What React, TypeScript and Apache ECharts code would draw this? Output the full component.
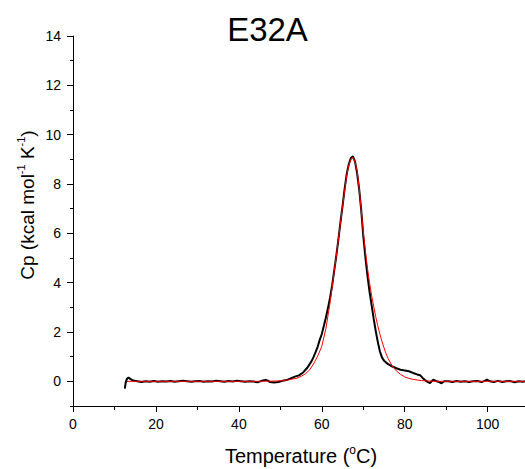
import React, { useEffect, useRef } from "react";
import * as echarts from "echarts";

// Experimental DSC trace (black)
const expT = [12.5, 12.7, 13.0, 13.4, 13.8, 14.5, 15.5, 16.5, 17.5, 18.5, 19.5, 20.5, 21.5, 22.5, 23.5, 24.5, 25.5, 26.5, 27.5, 28.5, 29.5, 30.5, 31.5, 32.5, 33.5, 34.5, 35.5, 36.5, 37.5, 38.5, 39.5, 40.5, 41.5, 42.5, 43.5, 44.5, 45.5, 46.5, 47.0, 47.5, 48.5, 49.5, 50.5, 51.5, 52.5, 53.5, 54.5, 55.5, 56.5, 57.5, 58.0, 58.5, 59.0, 59.5, 60.0, 60.5, 61.0, 61.5, 62.0, 62.5, 63.0, 63.5, 64.0, 64.5, 65.0, 65.5, 66.0, 66.5, 67.0, 67.5, 68.0, 68.5, 69.0, 69.5, 70.0, 70.5, 71.0, 71.5, 72.0, 72.5, 73.0, 73.5, 74.0, 74.5, 75.0, 75.5, 76.0, 77.0, 78.0, 79.0, 80.0, 81.0, 82.0, 83.0, 83.7, 84.3, 84.9, 85.5, 86.1, 86.9, 87.7, 88.3, 88.9, 89.5, 90.5, 91.5, 92.5, 93.5, 94.5, 95.5, 96.5, 97.5, 98.5, 99.3, 99.8, 100.5, 101.5, 102.5, 103.5, 104.5, 105.5, 106.5, 107.5, 108.5, 109.0];
const expCp = [-0.3, -0.05, 0.1, 0.15, 0.1, 0.03, 0.0, -0.03, 0.0, -0.02, 0.01, -0.02, 0.0, -0.01, 0.01, -0.02, 0.0, 0.02, 0.0, -0.02, 0.0, 0.01, -0.02, 0.0, -0.01, 0.02, 0.0, -0.02, 0.01, -0.01, 0.02, 0.0, -0.02, 0.0, -0.01, -0.04, 0.02, 0.06, 0.03, -0.03, -0.05, -0.03, 0.02, 0.05, 0.12, 0.19, 0.24, 0.36, 0.55, 0.81, 0.98, 1.18, 1.4, 1.68, 1.92, 2.25, 2.6, 2.98, 3.4, 3.9, 4.5, 5.1, 5.75, 6.45, 7.1, 7.8, 8.4, 8.8, 9.05, 9.12, 8.92, 8.45, 7.8, 6.95, 5.9, 5.05, 4.3, 3.65, 3.1, 2.55, 2.05, 1.6, 1.22, 0.97, 0.84, 0.76, 0.7, 0.6, 0.53, 0.47, 0.44, 0.41, 0.34, 0.28, 0.25, 0.14, 0.05, -0.02, -0.07, 0.07, 0.0, -0.03, -0.08, 0.0, 0.0, -0.03, 0.01, -0.02, 0.0, -0.03, 0.0, 0.01, -0.03, 0.02, 0.07, 0.0, -0.03, 0.02, -0.03, 0.0, 0.01, -0.04, 0.0, -0.02, 0.0];

// Fitted curve (red)
const fitT = [13, 20, 30, 40, 45, 48, 50, 52, 54, 55, 56, 57, 58, 59, 60, 61, 62, 63, 64, 65, 66, 66.5, 67, 67.5, 68, 68.5, 69, 69.5, 70, 70.5, 71, 71.5, 72, 72.5, 73, 73.5, 74, 74.5, 75, 75.5, 76, 77, 78, 79, 80, 81, 82, 84, 86, 88, 100, 109];
const fitCp = [0, 0, 0, 0, 0, 0.01, 0.02, 0.06, 0.13, 0.2, 0.3, 0.45, 0.7, 1.02, 1.42, 2.15, 3.2, 4.45, 5.74, 7.09, 8.35, 8.75, 9.0, 9.08, 8.9, 8.55, 7.85, 6.95, 6.05, 5.3, 4.6, 4.0, 3.5, 3.05, 2.62, 2.25, 1.92, 1.62, 1.36, 1.12, 0.92, 0.62, 0.42, 0.28, 0.18, 0.12, 0.08, 0.03, 0.01, 0, 0, 0];

const xMajor = [0, 20, 40, 60, 80, 100];
const xMinor = [10, 30, 50, 70, 90];
const yMajor = [0, 2, 4, 6, 8, 10, 12, 14];
const yMinor = [-1, 1, 3, 5, 7, 9, 11, 13];

const FONT = "Arial, 'Liberation Sans', Helvetica, sans-serif";

export default function App() {
  const ref = useRef<HTMLDivElement>(null);
  useEffect(() => {
    if (!ref.current) return;
    const chart = echarts.init(ref.current, null, { renderer: "svg" });
    const expData = expT.map((t, i) => [t, expCp[i]]);
    const fitData = fitT.map((t, i) => [t, fitCp[i]]);
    const axisCommon = {
      type: "value" as const,
      splitLine: { show: false },
    };
    chart.setOption({
      animation: false,
      backgroundColor: "#fff",
      grid: { left: 73, right: 0, top: 36, bottom: 63, containLabel: false },
      xAxis: [
        {
          ...axisCommon,
          min: 0,
          max: 109,
          position: "bottom",
          axisLine: { show: true, onZero: false, lineStyle: { color: "#000", width: 1 } },
          axisTick: { show: true, length: 6, customValues: xMajor, lineStyle: { color: "#000", width: 1 } },
          axisLabel: { show: true, customValues: xMajor, fontSize: 14, color: "#000", margin: 11, fontFamily: FONT },
        },
        {
          ...axisCommon,
          min: 0,
          max: 109,
          position: "bottom",
          axisLine: { show: false, onZero: false },
          axisTick: { show: true, length: 4, customValues: xMinor, lineStyle: { color: "#000", width: 1 } },
          axisLabel: { show: false },
        },
      ],
      yAxis: [
        {
          ...axisCommon,
          min: -1,
          max: 14,
          position: "left",
          axisLine: { show: true, onZero: false, lineStyle: { color: "#000", width: 1 } },
          axisTick: { show: true, length: 6, customValues: yMajor, lineStyle: { color: "#000", width: 1 } },
          axisLabel: { show: true, customValues: yMajor, fontSize: 14, color: "#000", margin: 12, fontFamily: FONT },
        },
        {
          ...axisCommon,
          min: -1,
          max: 14,
          position: "left",
          axisLine: { show: false, onZero: false },
          axisTick: { show: true, length: 3, customValues: yMinor, lineStyle: { color: "#000", width: 1 } },
          axisLabel: { show: false },
        },
      ],
      graphic: [
        {
          type: "text",
          x: 267.5,
          y: 29,
          style: { text: "E32A", fontSize: 33, fontFamily: FONT, fill: "#000", align: "center", verticalAlign: "middle" },
        },
        {
          type: "text",
          x: 301,
          y: 456,
          style: {
            text: "{a|Temperature (}{s|o}{a|C)}",
            align: "center",
            verticalAlign: "middle",
            rich: {
              a: { fontSize: 20, fontFamily: FONT, fill: "#000", lineHeight: 24 },
              s: { fontSize: 12, fontFamily: FONT, fill: "#000", lineHeight: 12, verticalAlign: "top" },
            },
          },
        },
        {
          type: "text",
          x: 27,
          y: 205,
          rotation: Math.PI / 2,
          style: {
            text: "{a|Cp (kcal mol}{s|-1}{a| K}{s|-1}{a|)}",
            align: "center",
            verticalAlign: "middle",
            rich: {
              a: { fontSize: 19, fontFamily: FONT, fill: "#000", lineHeight: 24 },
              s: { fontSize: 11, fontFamily: FONT, fill: "#000", lineHeight: 12, verticalAlign: "top" },
            },
          },
        },
      ],
      series: [
        {
          type: "line",
          xAxisIndex: 0,
          yAxisIndex: 0,
          data: expData,
          showSymbol: false,
          symbol: "none",
          lineStyle: { color: "#000", width: 2 },
          silent: true,
        },
        {
          type: "line",
          xAxisIndex: 0,
          yAxisIndex: 0,
          data: fitData,
          showSymbol: false,
          symbol: "none",
          lineStyle: { color: "#ff0000", width: 1 },
          silent: true,
        },
      ],
    });
    return () => chart.dispose();
  }, []);
  return <div ref={ref} style={{ position: "absolute", left: 0, top: 0, width: 525, height: 469 }} />;
}
